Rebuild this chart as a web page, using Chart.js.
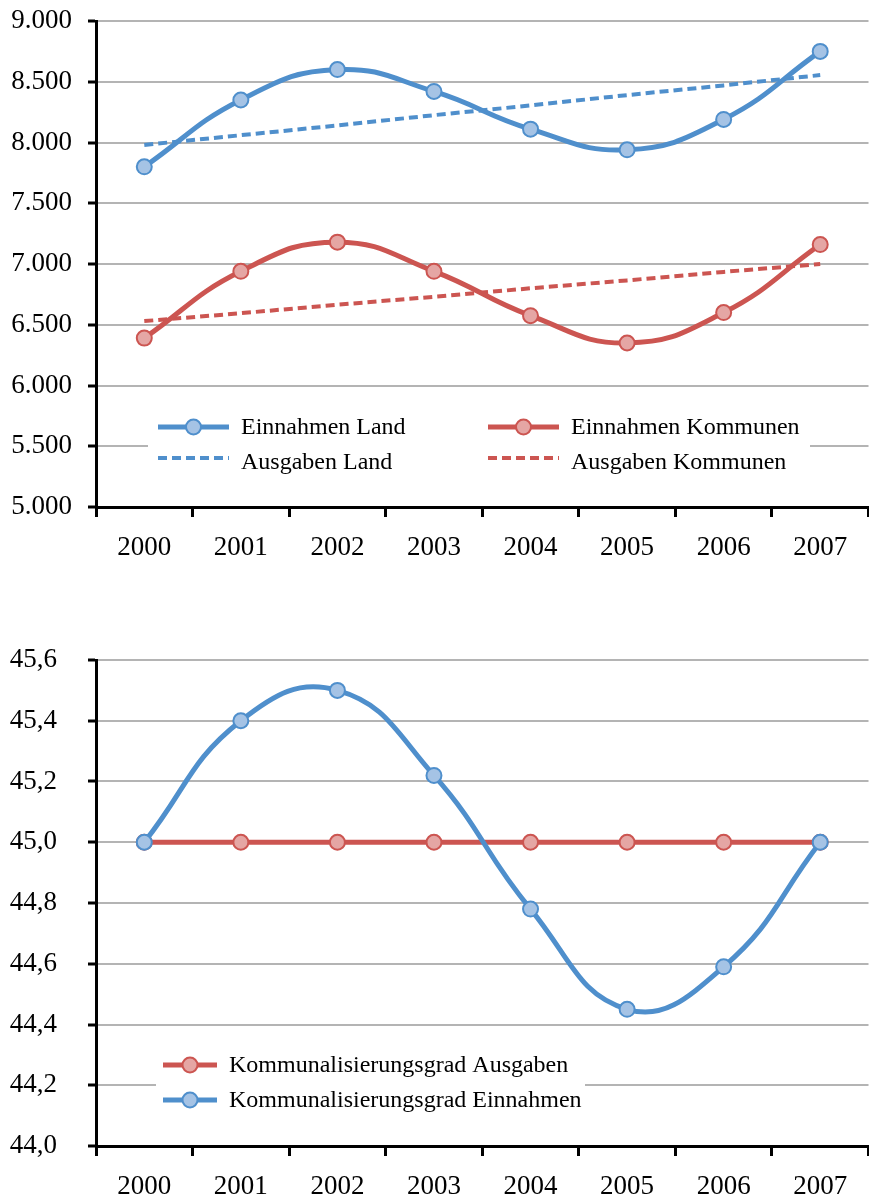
<!DOCTYPE html>
<html>
<head>
<meta charset="utf-8">
<script src="https://cdn.jsdelivr.net/npm/chart.js@4/dist/chart.umd.min.js"></script>
<style>
  html, body { margin: 0; padding: 0; background: #fff; overflow: hidden; }
  canvas { position: absolute; left: 0; }
  #top { top: 0; }
  #bottom { top: 600px; }
</style>
</head>
<body>
<canvas id="top" width="878" height="580"></canvas>
<canvas id="bottom" width="878" height="598"></canvas>
<script>
// data
const years = ['2000', '2001', '2002', '2003', '2004', '2005', '2006', '2007'];

const einnahmenLand = [7800, 8350, 8600, 8420, 8110, 7940, 8190, 8750];
const ausgabenLand = [7980, 8060, 8140, 8225, 8305, 8390, 8470, 8555];
const einnahmenKommunen = [6390, 6940, 7180, 6940, 6575, 6350, 6600, 7160];
const ausgabenKommunen = [6530, 6595, 6665, 6730, 6800, 6865, 6935, 7000];

const gradAusgaben = [45.0, 45.0, 45.0, 45.0, 45.0, 45.0, 45.0, 45.0];
const gradEinnahmen = [45.0, 45.4, 45.5, 45.22, 44.78, 44.45, 44.59, 45.0];

const BLUE = '#4f8fcc';
const BLUE_FILL = '#a5c3e5';
const RED = '#cc5551';
const RED_FILL = '#e5a6a4';
const GRID = '#b4b4b4';
const FONT = 'Liberation Serif';

// legend box drawn inside the plot, covering the gridline behind it
const boxLegend = {
  id: 'boxLegend',
  afterDraw(chart, args, opts) {
    const ctx = chart.ctx;
    ctx.save();
    ctx.fillStyle = '#fff';
    ctx.fillRect(opts.box[0], opts.box[1], opts.box[2], opts.box[3]);
    ctx.font = '24px "' + FONT + '"';
    ctx.textBaseline = 'middle';
    opts.items.forEach(it => {
      const ds = chart.data.datasets[it.index];
      const ly = it.y + (it.dy || 0);
      ctx.strokeStyle = ds.borderColor;
      ctx.lineWidth = ds.borderWidth;
      ctx.setLineDash(ds.borderDash || []);
      ctx.beginPath();
      ctx.moveTo(it.x, ly);
      ctx.lineTo(it.x + it.len, ly);
      ctx.stroke();
      ctx.setLineDash([]);
      if (ds.pointRadius > 0) {
        ctx.beginPath();
        ctx.arc(it.x + it.len / 2, ly, ds.pointRadius, 0, Math.PI * 2);
        ctx.fillStyle = ds.pointBackgroundColor;
        ctx.fill();
        ctx.lineWidth = ds.pointBorderWidth;
        ctx.strokeStyle = ds.pointBorderColor;
        ctx.stroke();
      }
      ctx.fillStyle = '#000';
      ctx.fillText(ds.label, it.x + it.len + 12, it.y + 1);
    });
    ctx.restore();
  }
};

function solid(label, data, color, fill) {
  return {
    label: label,
    data: data,
    borderColor: color,
    borderWidth: 5,
    tension: 0.45,
    pointRadius: 7.5,
    pointBorderWidth: 2,
    pointBackgroundColor: fill,
    pointBorderColor: color
  };
}

function dashed(label, data, color) {
  return {
    label: label,
    data: data,
    borderColor: color,
    borderWidth: 4,
    borderDash: [9, 5],
    pointRadius: 0
  };
}

function scales(min, max, step, fmt, labelPad, xHeight) {
  return {
    x: {
      offset: true,
      grid: {
        offset: true,
        drawOnChartArea: false,
        drawTicks: true,
        tickLength: 10,
        tickWidth: 3,
        tickColor: '#000'
      },
      border: { color: '#000', width: 3 },
      ticks: { color: '#000', font: { family: FONT, size: 27 }, padding: 15, maxRotation: 0 },
      afterFit: s => { s.height = xHeight; }
    },
    y: {
      min: min,
      max: max,
      grid: {
        color: GRID,
        lineWidth: 2,
        tickColor: '#000',
        tickLength: 8,
        tickWidth: 3
      },
      border: { color: '#000', width: 3 },
      ticks: {
        stepSize: step,
        color: '#000',
        font: { family: FONT, size: 27 },
        padding: labelPad,
        callback: fmt
      },
      afterFit: s => {
        s.width = 96;
        s.paddingTop = 0;
        s.paddingBottom = 0;
      }
    }
  };
}

new Chart(document.getElementById('top'), {
  type: 'line',
  data: {
    labels: years,
    datasets: [
      solid('Einnahmen Land', einnahmenLand, BLUE, BLUE_FILL),
      solid('Einnahmen Kommunen', einnahmenKommunen, RED, RED_FILL),
      dashed('Ausgaben Land', ausgabenLand, BLUE),
      dashed('Ausgaben Kommunen', ausgabenKommunen, RED)
    ]
  },
  options: {
    responsive: false,
    animation: false,
    layout: { padding: { top: 21, left: 0, right: 0, bottom: 0 } },
    scales: scales(5000, 9000, 500, v => v.toLocaleString('de-DE'), 16, 73),
    plugins: {
      legend: { display: false },
      tooltip: { enabled: false },
      boxLegend: {
        box: [148, 400, 662, 90],
        items: [
          { index: 0, x: 158, y: 427, len: 71 },
          { index: 2, x: 158, y: 462, dy: -4, len: 71 },
          { index: 1, x: 488, y: 427, len: 71 },
          { index: 3, x: 488, y: 462, dy: -4, len: 71 }
        ]
      }
    }
  },
  plugins: [boxLegend]
});

const ausg = solid('Kommunalisierungsgrad Ausgaben', gradAusgaben, RED, RED_FILL);
ausg.order = 1;
const einn = solid('Kommunalisierungsgrad Einnahmen', gradEinnahmen, BLUE, BLUE_FILL);
einn.order = 0;

new Chart(document.getElementById('bottom'), {
  type: 'line',
  data: {
    labels: years,
    datasets: [ausg, einn]
  },
  options: {
    responsive: false,
    animation: false,
    layout: { padding: { top: 60, left: 0, right: 0, bottom: 0 } },
    scales: scales(44, 45.6, 0.2, v => v.toFixed(1).replace('.', ','), 31, 52),
    plugins: {
      legend: { display: false },
      tooltip: { enabled: false },
      boxLegend: {
        box: [156, 440, 429, 85],
        items: [
          { index: 0, x: 163, y: 465, len: 54 },
          { index: 1, x: 163, y: 500, len: 54 }
        ]
      }
    }
  },
  plugins: [boxLegend]
});
</script>
</body>
</html>
